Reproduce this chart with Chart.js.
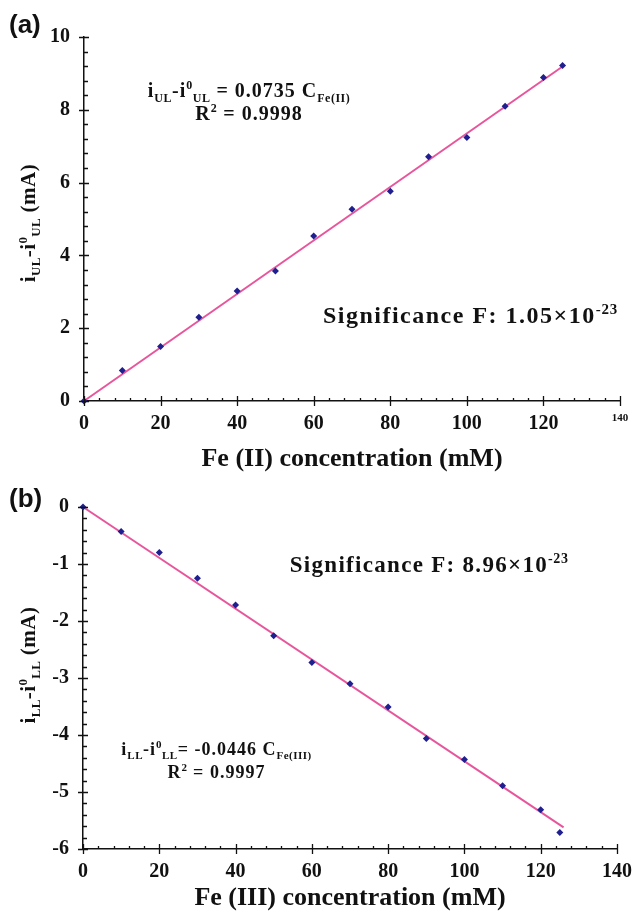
<!DOCTYPE html>
<html>
<head>
<meta charset="utf-8">
<script src="https://cdn.jsdelivr.net/npm/chart.js@4.4.1/dist/chart.umd.min.js"></script>
<style>
  body { margin: 0; background: #fff; }
  #wrap { position: relative; width: 643px; height: 915px; }
  canvas { position: absolute; left: 0; }
</style>
</head>
<body>
<div id="wrap">
  <canvas id="chartA" width="643" height="472" style="top:0"></canvas>
  <canvas id="chartB" width="643" height="443" style="top:472px"></canvas>
</div>
<script>
// panel (a): Fe(II)
const concA = [0, 10, 20, 30, 40, 50, 60, 70, 80, 90, 100, 110, 120, 125];
const currentA = [0, 0.84, 1.5, 2.3, 3.02, 3.57, 4.53, 5.27, 5.76, 6.71, 7.24, 8.1, 8.89, 9.22];
const fitConcA = [0, 125];
const fitCurrentA = [0, 9.19];
const xTicksA = [0, 20, 40, 60, 80, 100, 120, 140];
const yTicksA = [0, 2, 4, 6, 8, 10];

// panel (b): Fe(III)
const concB = [0, 10, 20, 30, 40, 50, 60, 70, 80, 90, 100, 110, 120, 125];
const currentB = [0, -0.43, -0.8, -1.25, -1.72, -2.26, -2.73, -3.1, -3.51, -4.06, -4.43, -4.89, -5.31, -5.71];
const fitConcB = [0, 126];
const fitCurrentB = [0, -5.62];
const xTicksB = [0, 20, 40, 60, 80, 100, 120, 140];
const yTicksB = [-6, -5, -4, -3, -2, -1, 0];

const SERIF = '"Liberation Serif", "Times New Roman", serif';
const PINK = "#e8559b";
const NAVY = "#1f1f8f";

function serif(size) {
  return "bold " + size + "px " + SERIF;
}

// draws text with sub/superscripts; parts = [[text, kind]], kind: n | sub | sup
function richText(ctx, parts, x, y, size, align, spacing) {
  const sp = spacing || 0;
  let total = 0;
  const items = parts.map(function (p) {
    const s = p[1] === "n" ? size : Math.round(size * 0.62);
    ctx.font = serif(s);
    ctx.letterSpacing = (p[1] === "n" ? sp : sp * 0.5) + "px";
    const w = ctx.measureText(p[0]).width;
    total += w;
    let dy = 0;
    if (p[1] === "sub") dy = size * 0.25;
    if (p[1] === "sup") dy = -size * 0.4;
    return { t: p[0], s: s, w: w, dy: dy, sp: p[1] === "n" ? sp : sp * 0.5 };
  });
  let cx = align === "center" ? x - total / 2 : x;
  ctx.textAlign = "left";
  ctx.textBaseline = "alphabetic";
  items.forEach(function (it) {
    ctx.font = serif(it.s);
    ctx.letterSpacing = it.sp + "px";
    ctx.fillText(it.t, cx, y + it.dy);
    cx += it.w;
  });
  ctx.letterSpacing = "0px";
}

function toPts(xs, ys) {
  return xs.map(function (x, i) {
    return { x: x, y: ys[i] };
  });
}

// minor/major ticks crossing the axes, labels and annotations
const extras = {
  id: "extras",
  afterDraw(chart, args, opts) {
    const ctx = chart.ctx;
    const xs = chart.scales.x;
    const ys = chart.scales.y;
    const area = chart.chartArea;
    ctx.save();
    ctx.strokeStyle = "#111";
    ctx.lineWidth = 1.3;
    ctx.beginPath();
    for (let v = xs.min; v <= xs.max + 1e-9; v += opts.xMinor) {
      const px = Math.round(xs.getPixelForValue(v)) + 0.5;
      const major = Math.abs(v % opts.xMajor) < 1e-6;
      ctx.moveTo(px, area.bottom + (major ? 5 : 0));
      ctx.lineTo(px, area.bottom - (major ? 5 : 3));
    }
    for (let k = 0; ; k++) {
      const v = ys.min + k * opts.yMinor;
      if (v > ys.max + 1e-9) break;
      const py = Math.round(ys.getPixelForValue(v)) + 0.5;
      const r = Math.abs(v / opts.yMajor - Math.round(v / opts.yMajor)) < 1e-6;
      ctx.moveTo(area.left - (r ? 5 : 0), py);
      ctx.lineTo(area.left + (r ? 5 : 4), py);
    }
    ctx.stroke();

    ctx.fillStyle = "#111";
    // panel letter
    ctx.font = 'bold 26px "Liberation Sans", Arial, sans-serif';
    ctx.textAlign = "left";
    ctx.textBaseline = "middle";
    ctx.fillText(opts.panel, 9, opts.panelY);

    // rotated y title
    ctx.save();
    ctx.translate(35, opts.yTitleY);
    ctx.rotate(-Math.PI / 2);
    richText(ctx, opts.yTitle, 0, 0, 21, "center", 0.5);
    ctx.restore();

    opts.notes.forEach(function (n) {
      richText(ctx, n.parts, xs.getPixelForValue(n.x), ys.getPixelForValue(n.y), n.size, n.align, n.spacing);
    });
    ctx.restore();
  },
};

function makeChart(id, cfg) {
  return new Chart(document.getElementById(id), {
    type: "scatter",
    data: {
      datasets: [
        {
          label: "measured",
          data: toPts(cfg.conc, cfg.current),
          pointStyle: "rectRot",
          pointRadius: 3.5,
          backgroundColor: NAVY,
          borderColor: NAVY,
          borderWidth: 0,
          clip: false,
        },
        {
          label: "fit",
          data: toPts(cfg.fitConc, cfg.fitCurrent),
          showLine: true,
          pointRadius: 0,
          borderColor: PINK,
          borderWidth: 2,
          clip: false,
        },
      ],
    },
    options: {
      responsive: false,
      animation: false,
      devicePixelRatio: 1,
      layout: { padding: cfg.padding },
      scales: {
        x: {
          type: "linear",
          min: 0,
          max: 140,
          afterBuildTicks: function (s) {
            s.ticks = cfg.xTicks.map(function (v) {
              return { value: v };
            });
          },
          afterFit: function (s) {
            s.height = cfg.xHeight;
          },
          grid: { display: false, drawTicks: false },
          border: { display: true, color: "#111", width: 1.5 },
          ticks: {
            color: "#111",
            padding: 11,
            maxRotation: 0,
            autoSkip: false,
            font: function (c) {
              if (cfg.smallLast && c.tick && c.tick.value === 140) {
                return { family: SERIF, weight: "bold", size: 11 };
              }
              return { family: SERIF, weight: "bold", size: 20 };
            },
          },
          title: {
            display: true,
            text: cfg.xTitle,
            color: "#111",
            font: { family: SERIF, weight: "bold", size: 26 },
            padding: { top: 0, bottom: cfg.titlePad },
          },
        },
        y: {
          type: "linear",
          min: cfg.yTicks[0],
          max: cfg.yTicks[cfg.yTicks.length - 1],
          afterBuildTicks: function (s) {
            s.ticks = cfg.yTicks.map(function (v) {
              return { value: v };
            });
          },
          afterFit: function (s) {
            s.width = cfg.yWidth;
          },
          grid: { display: false, drawTicks: false },
          border: { display: true, color: "#111", width: 1.5 },
          ticks: {
            color: "#111",
            padding: 14,
            font: { family: SERIF, weight: "bold", size: 20 },
          },
        },
      },
      plugins: {
        legend: { display: false },
        tooltip: { enabled: false },
        extras: cfg.extras,
      },
    },
    plugins: [extras],
  });
}

makeChart("chartA", {
  conc: concA,
  current: currentA,
  fitConc: fitConcA,
  fitCurrent: fitCurrentA,
  xTicks: xTicksA,
  yTicks: yTicksA,
  padding: { left: 0, right: 23, top: 37, bottom: 0 },
  xHeight: 71,
  yWidth: 84,
  titlePad: -3,
  smallLast: true,
  xTitle: "Fe (II) concentration (mM)",
  extras: {
    xMinor: 4,
    xMajor: 20,
    yMinor: 0.4,
    yMajor: 2,
    panel: "(a)",
    panelY: 26,
    yTitleY: 223,
    yTitle: [["i", "n"], ["UL", "sub"], ["-i", "n"], ["0", "sup"], ["UL", "sub"], [" (mA)", "n"]],
    notes: [
      {
        x: 43.1, y: 8.35, size: 20, align: "center", spacing: 1,
        parts: [["i", "n"], ["UL", "sub"], ["-i", "n"], ["0", "sup"], ["UL", "sub"], [" = 0.0735 C", "n"], ["Fe(II)", "sub"]],
      },
      {
        x: 43.1, y: 7.72, size: 20, align: "center", spacing: 1,
        parts: [["R", "n"], ["2", "sup"], [" = 0.9998", "n"]],
      },
      {
        x: 62.4, y: 2.14, size: 24, align: "left", spacing: 1.5,
        parts: [["Significance F: 1.05\u00d710", "n"], ["-23", "sup"]],
      },
    ],
  },
});

makeChart("chartB", {
  conc: concB,
  current: currentB,
  fitConc: fitConcB,
  fitCurrent: fitCurrentB,
  xTicks: xTicksB,
  yTicks: yTicksB,
  padding: { left: 0, right: 17, top: 35, bottom: 0 },
  xHeight: 66,
  yWidth: 83,
  titlePad: 1,
  smallLast: false,
  xTitle: "Fe (III) concentration (mM)",
  extras: {
    xMinor: 4,
    xMajor: 20,
    yMinor: 0.2,
    yMajor: 1,
    panel: "(b)",
    panelY: 28,
    yTitleY: 193,
    yTitle: [["i", "n"], ["LL", "sub"], ["-i", "n"], ["0", "sup"], ["LL", "sub"], [" (mA)", "n"]],
    notes: [
      {
        x: 35.0, y: -4.35, size: 18, align: "center", spacing: 1,
        parts: [["i", "n"], ["LL", "sub"], ["-i", "n"], ["0", "sup"], ["LL", "sub"], ["= -0.0446 C", "n"], ["Fe(III)", "sub"]],
      },
      {
        x: 35.0, y: -4.75, size: 18, align: "center", spacing: 1,
        parts: [["R", "n"], ["2", "sup"], [" = 0.9997", "n"]],
      },
      {
        x: 54.2, y: -1.14, size: 23, align: "left", spacing: 1.3,
        parts: [["Significance F: 8.96\u00d710", "n"], ["-23", "sup"]],
      },
    ],
  },
});
</script>
</body>
</html>
